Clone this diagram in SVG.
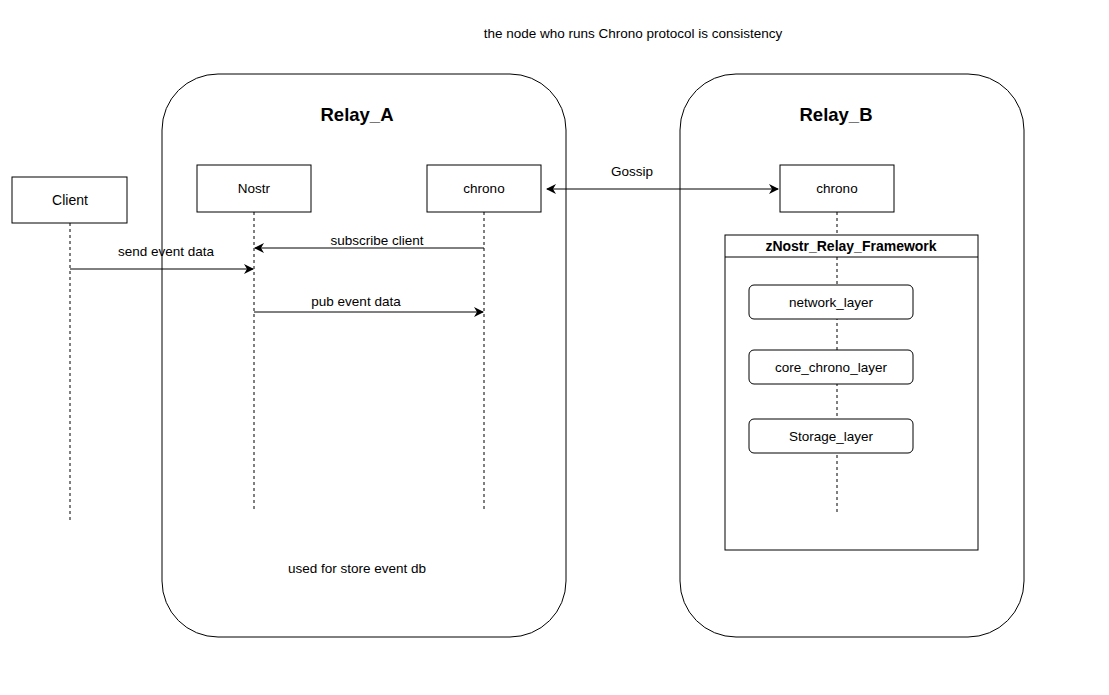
<svg xmlns="http://www.w3.org/2000/svg" width="1109" height="695" viewBox="0 0 1109 695">
<defs>
<style>
text{font-family:"Liberation Sans",Arial,sans-serif;font-size:13.5px;fill:#000;text-anchor:middle;}
.title{font-size:18.5px;font-weight:bold;}
.bold{font-weight:bold;font-size:14px;}
.box{fill:#fff;stroke:#000;stroke-width:1;}
.life{stroke:#000;stroke-width:1;stroke-dasharray:3 3;fill:none;}
.msg{stroke:#000;stroke-width:1;fill:none;}
</style>
<marker id="ah" viewBox="0 0 10 10" refX="9" refY="5" markerWidth="10" markerHeight="10" markerUnits="userSpaceOnUse" orient="auto-start-reverse">
<path d="M0,0 L10,5 L0,10 L3,5 Z" fill="#000"/>
</marker>
</defs>
<rect width="1109" height="695" fill="#fff"/>
<text x="633" y="38">the node who runs Chrono protocol is consistency</text>
<g id="relay_a">
<rect class="box" x="162" y="74" width="404" height="563" rx="56" ry="56"/>
<text class="title" x="357" y="121">Relay_A</text>
<text x="357" y="573">used for store event db</text>
</g>
<g id="relay_b">
<rect class="box" x="680" y="74" width="344" height="563" rx="56" ry="56"/>
<text class="title" x="836" y="121">Relay_B</text>
</g>
<g id="lifelines">
<line class="life" x1="70" y1="223" x2="70" y2="522"/>
<line class="life" x1="254" y1="212" x2="254" y2="512"/>
<line class="life" x1="484" y1="212" x2="484" y2="512"/>
<line class="life" x1="837" y1="212" x2="837" y2="235"/>
</g>
<g id="client">
<rect class="box" x="12" y="177" width="115" height="46"/>
<text x="70" y="205" style="font-size:14px">Client</text>
</g>
<g id="nostr">
<rect class="box" x="197" y="165" width="114" height="47"/>
<text x="254" y="193">Nostr</text>
</g>
<g id="chrono_a">
<rect class="box" x="427" y="165" width="114" height="47"/>
<text x="484" y="193">chrono</text>
</g>
<g id="chrono_b">
<rect class="box" x="780" y="165" width="114" height="47"/>
<text x="837" y="193">chrono</text>
</g>
<g id="framework">
<rect class="box" x="725" y="235" width="253" height="315"/>
<line x1="725" y1="257" x2="978" y2="257" stroke="#000"/>
<text class="bold" x="851" y="251">zNostr_Relay_Framework</text>
<line class="life" x1="837" y1="257" x2="837" y2="512"/>
</g>
<g id="network_layer">
<rect class="box" x="749" y="285" width="164" height="34" rx="5" ry="5"/>
<text x="831" y="307">network_layer</text>
</g>
<g id="core_chrono_layer">
<rect class="box" x="749" y="350" width="164" height="34" rx="5" ry="5"/>
<text x="831" y="372">core_chrono_layer</text>
</g>
<g id="storage_layer">
<rect class="box" x="749" y="419" width="164" height="34" rx="5" ry="5"/>
<text x="831" y="441">Storage_layer</text>
</g>
<g id="connectors">
<line class="msg" x1="547" y1="189" x2="778" y2="189" marker-start="url(#ah)" marker-end="url(#ah)"/>
<text x="632" y="176">Gossip</text>
<line class="msg" x1="484" y1="248" x2="255" y2="248" marker-end="url(#ah)"/>
<text x="377" y="245">subscribe client</text>
<line class="msg" x1="70" y1="269" x2="253" y2="269" marker-end="url(#ah)"/>
<text x="166" y="256">send event data</text>
<line class="msg" x1="254" y1="312" x2="483" y2="312" marker-end="url(#ah)"/>
<text x="356" y="306">pub event data</text>
</g>
</svg>
